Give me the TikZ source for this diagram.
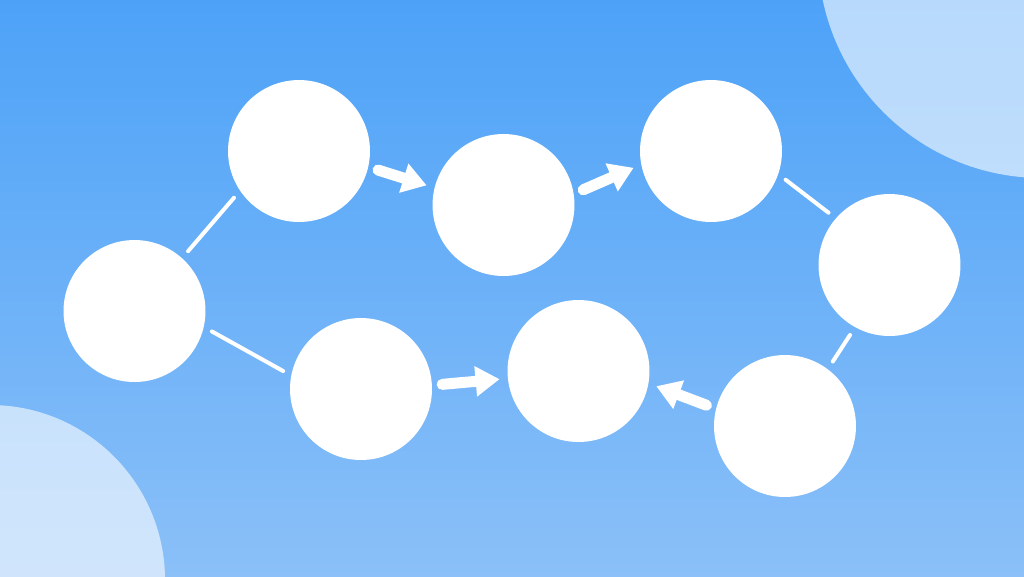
\documentclass[tikz,border=0pt]{standalone}
\usepackage{xcolor}
\usepackage{tikz}
\usetikzlibrary{arrows.meta}
\definecolor{skytop}{HTML}{4DA2F8}
\definecolor{skybot}{HTML}{8BC0F8}
\tikzset{
    blob/.style={circle, fill=white, minimum size=2.84cm, inner sep=0pt},
    link/.style={white, line width=.08cm, line cap=round, shorten <=.18cm, shorten >=.18cm},
    flow/.style={white, line width=.22cm, line cap=round, shorten <=.2cm, shorten >=.16cm, -{Triangle[width=.58cm,length=.48cm]}}
}
\begin{document}
\begin{tikzpicture}[x=.02cm, y=-.02cm]
        \useasboundingbox (0,0) rectangle (1024,576);
        \begin{scope}
            \clip (0,0) rectangle (1024,576);
            % background
            \shade[top color=skytop, bottom color=skybot] (0,0) rectangle (1024,576);
            % corner discs
            \fill[white, opacity=.6] (1042,-46) circle (224);
            \fill[white, opacity=.6] (-10,580) circle (175);
        \end{scope}
        % circles
        \node[blob] (n1) at (134.5,311) {};
        \node[blob] (n2) at (299,151) {};
        \node[blob] (n3) at (503.5,205) {};
        \node[blob] (n4) at (711,151) {};
        \node[blob] (n5) at (889.5,265) {};
        \node[blob] (n6) at (785,426) {};
        \node[blob] (n7) at (578.5,371) {};
        \node[blob] (n8) at (361,389) {};
        % upper path
        \draw[link] (n1.48) -- (n2.214);
        \draw[flow] (n2.-13) -- (n3.166);
        \draw[flow] (n3.9) -- (n4.191);
        \draw[link] (n4.-19) -- (n5.139);
        \draw[link] (n5.241) -- (n6.53);
        \draw[flow] (n6.166) -- (n7.-10);
        % lower path
        \draw[link] (n1.-13) -- (n8.169);
        \draw[flow] (n8.3) -- (n7.186);
\end{tikzpicture}
\end{document}
